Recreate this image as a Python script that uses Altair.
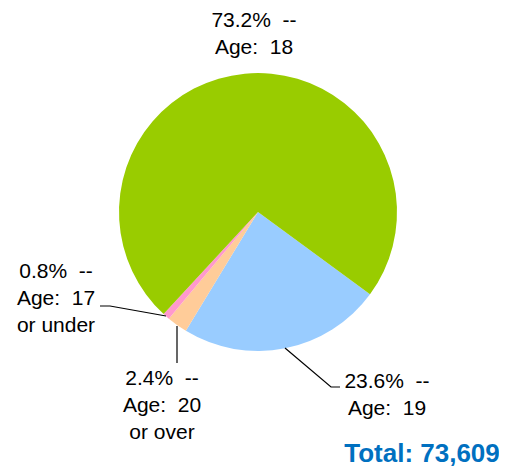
import math
import altair as alt
import pandas as pd

S = " \u00a0"  # two visible spaces
# ---- data ----
ages = ["19", "20 or over", "17 or under", "18"]
percents = [23.6, 2.4, 0.8, 73.2]
label_texts = [
    f"23.6%{S}--\nAge:{S}19",
    f"2.4%{S}--\nAge:{S}20\nor over",
    f"0.8%{S}--\nAge:{S}17\nor under",
    f"73.2%{S}--\nAge:{S}18",
]
colors = ["#99CCFF", "#FFCC99", "#FF99CC", "#99CC00"]
total_text = "Total: 73,609"

# ---- layout (pixel positions inside the chart area) ----
W, H = 491, 460
CX, CY, R = 250, 204, 139
start_deg = 126.3
label_pos = [(379, 380), (154, 377), (48, 270), (246, 19)]
leader_pts = [
    [(277, 340), (323, 379), (332, 379)],
    [(169, 318), (169, 355)],
    [(92, 298), (102, 298), (158, 308)],
]

pie_df = pd.DataFrame({"age": ages, "pct": percents, "ord": list(range(len(ages)))})
lab_df = pd.DataFrame({
    "txt": label_texts,
    "x": [p[0] for p in label_pos],
    "y": [p[1] for p in label_pos],
})
rows = []
for i, seg in enumerate(leader_pts):
    for j, (x, y) in enumerate(seg):
        rows.append({"seg": i, "k": j, "x": x, "y": y})
line_df = pd.DataFrame(rows)
tot_df = pd.DataFrame({"txt": [total_text], "x": [414], "y": [454]})

xs = alt.Scale(domain=[0, W])
ys = alt.Scale(domain=[H, 0])
start = math.radians(start_deg)

pie = alt.Chart(pie_df).mark_arc(outerRadius=R).encode(
    theta=alt.Theta("pct:Q", scale=alt.Scale(range=[start, start + 2 * math.pi])),
    color=alt.Color("age:N", scale=alt.Scale(domain=ages, range=colors), legend=None),
    order=alt.Order("ord:Q"),
    x=alt.value(CX),
    y=alt.value(CY),
)

lines = alt.Chart(line_df).mark_line(color="black", strokeWidth=1.2).encode(
    x=alt.X("x:Q", scale=xs, axis=None),
    y=alt.Y("y:Q", scale=ys, axis=None),
    detail="seg:N",
    order="k:Q",
)

labels = alt.Chart(lab_df).mark_text(
    font="Liberation Sans", fontSize=21, lineBreak="\n", lineHeight=27,
    align="center", baseline="alphabetic", color="black",
).encode(
    x=alt.X("x:Q", scale=xs, axis=None),
    y=alt.Y("y:Q", scale=ys, axis=None),
    text="txt:N",
)

total = alt.Chart(tot_df).mark_text(
    font="Liberation Sans", fontSize=26, fontWeight="bold",
    align="center", baseline="alphabetic", color="#0070C0",
).encode(
    x=alt.X("x:Q", scale=xs, axis=None),
    y=alt.Y("y:Q", scale=ys, axis=None),
    text="txt:N",
)

chart = alt.layer(pie, lines, labels, total).properties(
    width=W, height=H, autosize=alt.AutoSizeParams(type="none"), padding=0,
).configure_view(stroke=None)

chart.save("out.html", embed_options={"renderer": "svg", "actions": False})
